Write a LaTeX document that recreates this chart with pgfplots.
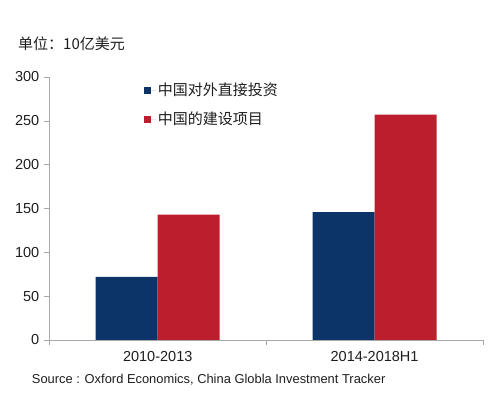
\documentclass[border=0pt]{standalone}
\usepackage{pgfplots}
\pgfplotsset{compat=1.18}
\usepackage{fontspec}
\setmainfont{Liberation Sans}
\newfontfamily\cjk{Noto Sans CJK SC}
\definecolor{cblue}{HTML}{0D3468}
\definecolor{cred}{HTML}{BC1E2D}
\definecolor{axgray}{HTML}{A8A8A8}
\definecolor{txt}{HTML}{1E1E1E}
\begin{document}
\begin{tikzpicture}[x=1pt,y=1pt]
\path[use as bounding box] (0,0) rectangle (499,399);
\begin{axis}[
  at={(49.3pt,59pt)}, anchor=south west,
  scale only axis, width=433.7pt, height=263pt,
  xmin=-0.5, xmax=1.5, ymin=0, ymax=300,
  axis lines=left,
  axis line style={draw=axgray,-},
  every tick/.style={draw=axgray},
  tick align=outside,
  major tick length=5pt,
  ytick={0,50,...,300},
  xtick={-0.5,0.5,1.5},
  xticklabels={},
  extra x ticks={0,1},
  extra x tick labels={2010-2013,2014-2018H1},
  extra x tick style={major tick length=0pt},
  ticklabel style={font=\fontsize{14.5}{16}\selectfont, text=txt},
  /pgf/number format/assume math mode=true,
  xticklabel style={yshift=-8pt},
  yticklabel style={xshift=-1.5pt},
  ybar=0pt, bar width=62pt,
  legend cell align=left,
  legend style={draw=none, fill=none, at={(0.212,0.993)}, anchor=north west,
    font=\cjk\fontsize{15}{16}\selectfont, text=txt, row sep=11pt},
  legend image code/.code={\fill[#1,draw=none] (0pt,-3.5pt) rectangle (7pt,3.5pt);\path (0pt,0pt) -- (11.5pt,0pt);},
]
\addplot[fill=cblue, draw=none] coordinates {(0,72) (1,146)};
\addplot[fill=cred, draw=none] coordinates {(0,143) (1,257)};
\legend{中国对外直接投资, 中国的建设项目}
\end{axis}
\node[anchor=west, inner sep=0pt, text=txt] at (18pt,355.7pt) {\cjk\fontsize{15}{16}\selectfont 单位：10亿美元};
\node[anchor=west, inner sep=0pt, text=txt] at (31.7pt,19pt) {\fontsize{12.9}{14}\selectfont Source : Oxford Economics, China Globla Investment Tracker};
\end{tikzpicture}
\end{document}
